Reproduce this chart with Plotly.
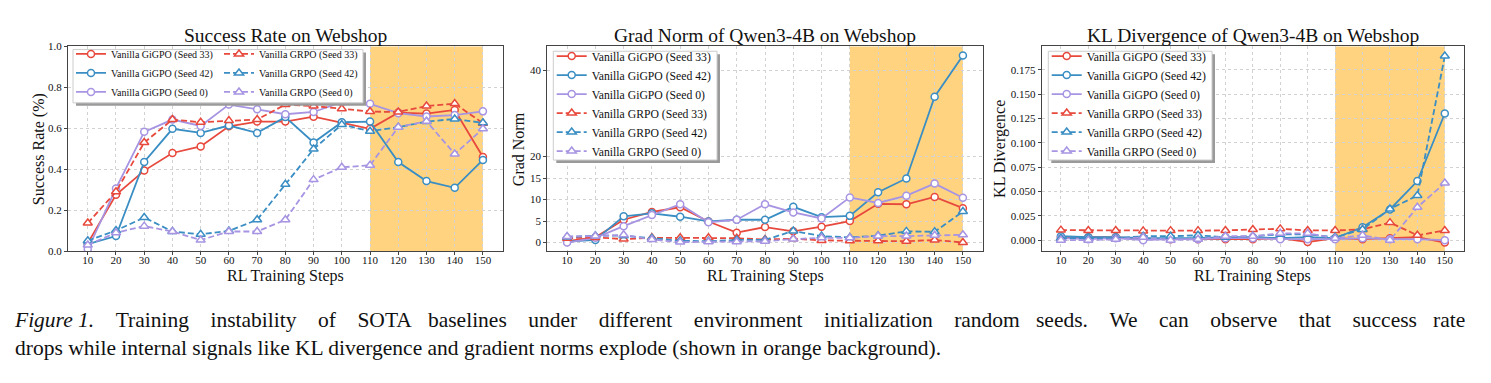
import plotly.graph_objects as go

W, H = 1491, 383

steps = [10, 20, 30, 40, 50, 60, 70, 80, 90, 100, 110, 120, 130, 140, 150]

series_names = ["Vanilla GiGPO (Seed 33)", "Vanilla GiGPO (Seed 42)", "Vanilla GiGPO (Seed 0)",
                "Vanilla GRPO (Seed 33)", "Vanilla GRPO (Seed 42)", "Vanilla GRPO (Seed 0)"]

# Success rate
sr_gigpo_33 = [0.04, 0.276, 0.394, 0.48, 0.512, 0.61, 0.633, 0.633, 0.657, 0.628, 0.598, 0.677, 0.672, 0.69, 0.46]
sr_gigpo_42 = [0.035, 0.075, 0.436, 0.598, 0.578, 0.614, 0.578, 0.655, 0.531, 0.63, 0.633, 0.436, 0.343, 0.31, 0.446]
sr_gigpo_0 = [0.01, 0.307, 0.583, 0.643, 0.612, 0.716, 0.693, 0.669, 0.68, 0.728, 0.72, 0.674, 0.658, 0.665, 0.683]
sr_grpo_33 = [0.138, 0.291, 0.531, 0.643, 0.63, 0.638, 0.643, 0.716, 0.709, 0.696, 0.682, 0.68, 0.709, 0.721, 0.625]
sr_grpo_42 = [0.052, 0.102, 0.165, 0.097, 0.083, 0.1, 0.154, 0.327, 0.499, 0.619, 0.586, 0.606, 0.633, 0.646, 0.627]
sr_grpo_0 = [0.031, 0.091, 0.123, 0.097, 0.055, 0.097, 0.097, 0.154, 0.35, 0.41, 0.42, 0.606, 0.635, 0.475, 0.598]

# Grad norm
gn_gigpo_33 = [0.3, 1.2, 5.3, 7.1, 8.2, 4.9, 2.3, 3.6, 2.6, 3.7, 5.0, 9.0, 8.9, 10.6, 8.0]
gn_gigpo_42 = [0.2, 0.6, 6.1, 6.8, 6.0, 4.9, 5.3, 5.3, 8.3, 5.9, 6.2, 11.7, 14.9, 33.9, 43.5]
gn_gigpo_0 = [0.0, 1.1, 3.8, 6.4, 8.9, 4.7, 5.3, 8.9, 7.0, 5.6, 10.5, 9.2, 10.9, 13.7, 10.4]
gn_grpo_33 = [1.0, 1.2, 0.8, 1.1, 1.1, 1.1, 1.0, 0.7, 0.9, 0.5, 0.4, 0.4, 0.3, 0.6, 0.0]
gn_grpo_42 = [1.3, 1.6, 1.6, 1.0, 0.4, 0.3, 0.6, 0.6, 2.7, 1.5, 1.2, 1.6, 2.6, 2.5, 7.2]
gn_grpo_0 = [1.4, 1.5, 1.8, 0.7, 0.1, 0.2, 0.2, 0.3, 0.8, 1.1, 1.1, 1.5, 1.5, 1.7, 1.8]

# KL divergence
kl_gigpo_33 = [0.003, 0.003, 0.003, 0.001, 0.001, 0.001, 0.001, 0.001, 0.002, -0.002, 0.002, 0.001, 0.002, 0.003, -0.0025]
kl_gigpo_42 = [0.004, 0.003, 0.003, 0.002, 0.002, 0.002, 0.003, 0.003, 0.002, 0.003, 0.002, 0.0133, 0.0315, 0.0607, 0.13]
kl_gigpo_0 = [0.002, 0.001, 0.002, 0.0, 0.001, 0.001, 0.002, 0.002, 0.001, 0.001, 0.001, 0.002, 0.001, 0.001, 0.0]
kl_grpo_33 = [0.0103, 0.010, 0.010, 0.0095, 0.0098, 0.0098, 0.010, 0.011, 0.0116, 0.010, 0.010, 0.011, 0.018, 0.005, 0.0099]
kl_grpo_42 = [0.002, 0.002, 0.002, 0.004, 0.004, 0.005, 0.003, 0.004, 0.006, 0.006, 0.003, 0.011, 0.032, 0.0458, 0.189]
kl_grpo_0 = [0.0, 0.0, 0.001, 0.003, 0.0, 0.001, 0.004, 0.004, 0.007, 0.007, 0.002, 0.005, 0.0, 0.0338, 0.0587]

panel_titles = ["Success Rate on Webshop", "Grad Norm of Qwen3-4B on Webshop", "KL Divergence of Qwen3-4B on Webshop"]
y_titles = ["Success Rate (%)", "Grad Norm", "KL Divergence"]
x_title = "RL Training Steps"
caption_line1_words = ["<i>Figure", "1.</i>", "Training", "instability", "of", "SOTA", "baselines", "under",
                       "different", "environment", "initialization", "random", "seeds.", "We", "can",
                       "observe", "that", "success", "rate"]
caption_line2 = ("drops while internal signals like KL divergence and gradient norms explode "
                 "(shown in orange background).")

gn_ticks = [0, 5, 10, 15, 20, 40]
kl_ticks = [0.0, 0.025, 0.05, 0.075, 0.1, 0.125, 0.15, 0.175]
sr_ticks = [0.0, 0.2, 0.4, 0.6, 0.8, 1.0]

RED, BLUE, PURPLE = "#e8493d", "#3a8ec3", "#a794e2"
colors = [RED, BLUE, PURPLE, RED, BLUE, PURPLE]
FONT = "Liberation Serif"

def px(x):
    return x / W

def py(y):
    return 1 - y / H

# panel pixel geometry
xdom_px = [(68.0, 502.7), (547.3, 982.7), (1041.7, 1464.0)]
ytop, ybot = 41.7, 253.3

fig = go.Figure()

panels = [
    [sr_gigpo_33, sr_gigpo_42, sr_gigpo_0, sr_grpo_33, sr_grpo_42, sr_grpo_0],
    [gn_gigpo_33, gn_gigpo_42, gn_gigpo_0, gn_grpo_33, gn_grpo_42, gn_grpo_0],
    [kl_gigpo_33, kl_gigpo_42, kl_gigpo_0, kl_grpo_33, kl_grpo_42, kl_grpo_0],
]
legend_ids = [["legend", "legend", "legend", "legend2", "legend2", "legend2"],
              ["legend3"] * 6, ["legend4"] * 6]

for p, data in enumerate(panels):
    xa = "x" if p == 0 else f"x{p+1}"
    ya = "y" if p == 0 else f"y{p+1}"
    for i, vals in enumerate(data):
        grpo = i >= 3
        fig.add_trace(go.Scatter(
            x=steps, y=vals, name=series_names[i], xaxis=xa, yaxis=ya,
            mode="lines+markers",
            line=dict(color=colors[i], width=1.8, dash="6px,3px" if grpo else "solid"),
            marker=dict(symbol="triangle-up" if grpo else "circle", size=8 if grpo else 7,
                        color="white", line=dict(color=colors[i], width=1.5)),
            legend=legend_ids[p][i], showlegend=True,
        ))

axis_common = dict(showline=True, linecolor="#444444", linewidth=1, mirror=True,
                   ticks="outside", ticklen=3, tickcolor="#444444",
                   showgrid=True, gridcolor="#d2d2d2", griddash="3px,3px", gridwidth=0.8,
                   zeroline=False, tickfont=dict(family=FONT, size=11, color="#111111"))

layout = dict(width=W, height=H, margin=dict(l=0, r=0, t=0, b=0),
              plot_bgcolor="white", paper_bgcolor="white", showlegend=True,
              font=dict(family=FONT, color="#111111"))

yranges = [[0, 1.0], [-2.05, 45.6], [-0.0115, 0.1989]]
ytickvals = [sr_ticks, gn_ticks, kl_ticks]
yticktext = [[f"{v:.1f}" for v in sr_ticks], [str(v) for v in gn_ticks], [f"{v:.3f}" for v in kl_ticks]]

for p in range(3):
    sx = "" if p == 0 else str(p + 1)
    layout[f"xaxis{sx}"] = dict(axis_common, domain=[px(xdom_px[p][0]), px(xdom_px[p][1])],
                                range=[3, 157], tickvals=steps, anchor=f"y{sx}",
                                ticklabelstandoff=-5)
    layout[f"yaxis{sx}"] = dict(axis_common, domain=[py(ybot), py(ytop)], range=yranges[p],
                                tickvals=ytickvals[p], ticktext=yticktext[p], anchor=f"x{sx}")

# legends (frames drawn as shapes)
leg_common = dict(bgcolor="rgba(0,0,0,0)", borderwidth=0, xanchor="left", yanchor="top",
                  tracegroupgap=0, itemclick=False, itemdoubleclick=False)
layout["legend"] = dict(leg_common, x=px(71), y=py(34.5), font=dict(family=FONT, size=10, color="#111111"))
layout["legend2"] = dict(leg_common, x=px(219), y=py(34.5), font=dict(family=FONT, size=10, color="#111111"))
layout["legend3"] = dict(leg_common, x=px(551.7), y=py(36.7), font=dict(family=FONT, size=11.7, color="#111111"))
layout["legend4"] = dict(leg_common, x=px(1046.7), y=py(36.7), font=dict(family=FONT, size=11.7, color="#111111"))

fig.update_layout(**layout)

# orange background span
for p in range(3):
    sx = "" if p == 0 else str(p + 1)
    fig.add_shape(type="rect", xref=f"x{sx}", yref=f"y{sx} domain", x0=110, x1=150, y0=0, y1=1,
                  fillcolor="rgb(255,211,128)", line_width=0, layer="below")

# legend frames with shadow
frames = [(73, 45, 363, 100), (553.3, 46.7, 717, 159), (1048.3, 46.7, 1212, 159)]
for (x0, y0, x1, y1) in frames:
    fig.add_shape(type="rect", xref="paper", yref="paper", x0=px(x0 + 3), x1=px(x1 + 3),
                  y0=py(y1 + 3), y1=py(y0 + 3), fillcolor="#9a9a9a", line_width=0, layer="above")
    fig.add_shape(type="rect", xref="paper", yref="paper", x0=px(x0), x1=px(x1),
                  y0=py(y1), y1=py(y0), fillcolor="white", line=dict(color="#cccccc", width=1), layer="above")

# titles and axis titles
for p in range(3):
    cx = (xdom_px[p][0] + xdom_px[p][1]) / 2
    fig.add_annotation(text=panel_titles[p], xref="paper", yref="paper", x=px(cx), y=py(30),
                       xanchor="center", yanchor="middle", showarrow=False,
                       font=dict(family=FONT, size=19.5, color="#111111"))
    fig.add_annotation(text=x_title, xref="paper", yref="paper", x=px(cx), y=py(279),
                       xanchor="center", yanchor="middle", showarrow=False,
                       font=dict(family=FONT, size=16, color="#111111"))

ytitle_x = [39.3, 519.3, 1000.0]
for p in range(3):
    fig.add_annotation(text=y_titles[p], xref="paper", yref="paper", x=px(ytitle_x[p]), y=py(147.5),
                       xanchor="center", yanchor="middle", textangle=-90, showarrow=False,
                       font=dict(family=FONT, size=16, color="#111111"))

# caption: first line justified by widening word gaps (non-breaking spaces)
NB = "\u00a0"
parts = []
for k, w in enumerate(caption_line1_words):
    parts.append(w)
    if k < len(caption_line1_words) - 1:
        parts.append(NB * (3 if k % 6 == 5 else 4) if k != 0 else " ")
line1 = "".join(parts)
caption = line1 + "<br>" + caption_line2

fig.add_annotation(text=caption, xref="paper", yref="paper", x=px(12), y=py(339),
                   xanchor="left", yanchor="middle", align="left", showarrow=False,
                   font=dict(family=FONT, size=21.5, color="#111111"))

fig.write_html("out.html")
